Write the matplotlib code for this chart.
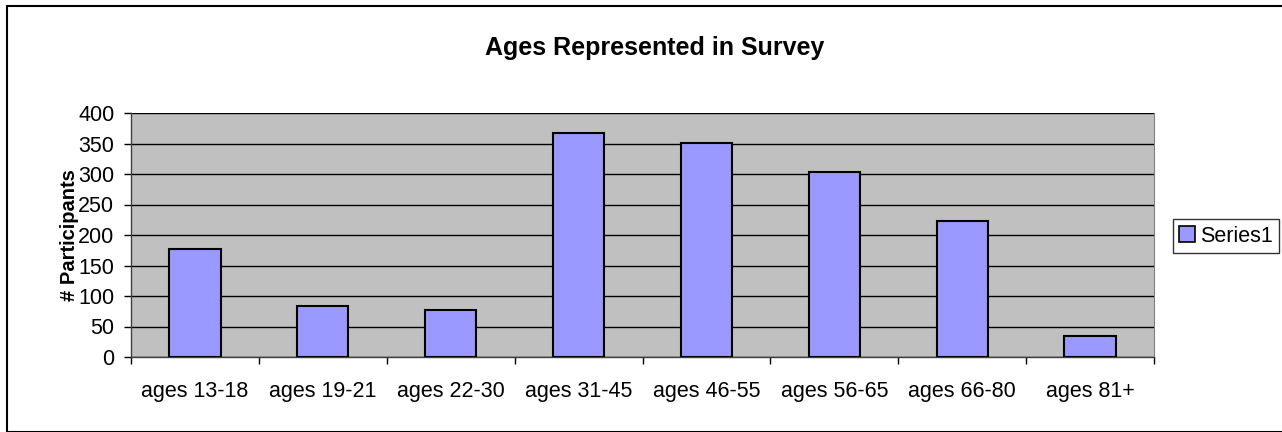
import numpy as np
import matplotlib.pyplot as plt
from matplotlib.patches import Rectangle

# data
categories = ["ages 13-18", "ages 19-21", "ages 22-30", "ages 31-45",
              "ages 46-55", "ages 56-65", "ages 66-80", "ages 81+"]
participants = [177, 83, 77, 367, 351, 304, 223, 35]
y_ticks = [0, 50, 100, 150, 200, 250, 300, 350, 400]

plt.rcParams['font.family'] = ['Liberation Sans', 'DejaVu Sans']

fig = plt.figure(figsize=(12.82, 4.32), dpi=100)
W, H = 1282, 432

# outer chart border
fig.patches.append(Rectangle((7 / W, 0), 1.5, 1 - 6 / H, transform=fig.transFigure,
                             fill=False, edgecolor='black', linewidth=1.5))

ax = fig.add_axes([131 / W, 1 - 357 / H, 1023 / W, 244 / H])
ax.set_facecolor('#C0C0C0')

x = np.arange(len(categories))
ax.bar(x, participants, width=0.4, color='#9999FF', edgecolor='black',
       linewidth=1.5, label='Series1', zorder=3)

ax.set_xlim(-0.5, len(categories) - 0.5)
ax.set_ylim(0, 400)
ax.set_yticks(y_ticks)
ax.yaxis.grid(True, color='black', linewidth=1, zorder=1)
ax.set_axisbelow(True)

# ticks between categories, labels centred under bars
ax.set_xticks(np.arange(len(categories) + 1) - 0.5)
ax.set_xticklabels([])
ax.set_xticks(x, minor=True)
ax.set_xticklabels(categories, minor=True)
ax.tick_params(axis='x', which='minor', length=0, pad=17, labelsize=15.5)
ax.tick_params(axis='x', which='major', length=5, width=1, direction='out')
ax.tick_params(axis='y', length=5, width=1, direction='out', labelsize=15.5, pad=7)

for s in ['left', 'bottom']:
    ax.spines[s].set_color('#404040')
    ax.spines[s].set_linewidth(1)
ax.spines['top'].set_visible(False)
ax.spines['right'].set_color('#808080')

ax.set_ylabel('# Participants', fontsize=14.5, fontweight='bold', labelpad=-1)
fig.text(655 / W, 1 - 48 / H, 'Ages Represented in Survey', ha='center', va='center',
         fontsize=18, fontweight='bold')

leg = ax.legend(loc='center left', bbox_to_anchor=(1173 / W, 1 - 236 / H),
                bbox_transform=fig.transFigure, fontsize=15.5, frameon=True,
                fancybox=False, edgecolor='black', handlelength=0.7,
                handleheight=0.7, handletextpad=0.25, borderpad=0.3,
                borderaxespad=0)
leg.get_frame().set_linewidth(1)
for h in leg.legend_handles:
    h.set_linewidth(1.2)

plt.savefig('out.png', dpi=100)
